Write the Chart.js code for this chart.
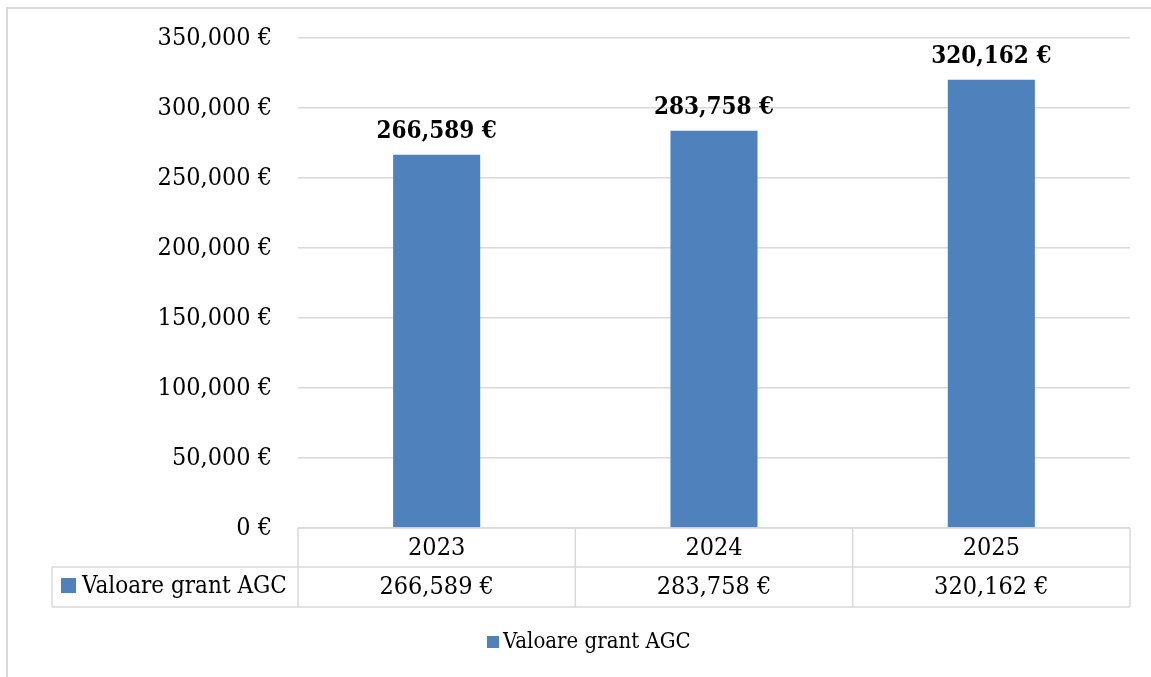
<!DOCTYPE html>
<html>
<head>
<meta charset="utf-8">
<script src="https://cdn.jsdelivr.net/npm/chart.js@4"></script>
<style>
  html, body { margin: 0; padding: 0; background: #fff; }
  #wrap { width: 1151px; height: 677px; position: relative; }
</style>
</head>
<body>
<div id="wrap"><canvas id="grantChart" width="1151" height="677"></canvas></div>
<script>
const years = ['2023', '2024', '2025'];
const grantValues = [266589, 283758, 320162];
const seriesName = 'Valoare grant AGC';
const yTicks = [0, 50000, 100000, 150000, 200000, 250000, 300000, 350000];

const barColor = '#4f81bd';
const lineColor = '#d9d9d9';
const fontName = '"DejaVu Serif Condensed", "DejaVu Serif", serif';

function euro(v) {
    return v.toLocaleString('en-US') + ' €';
}

// frame, data table under the axis, legend at the bottom, value labels
const tablePlugin = {
    id: 'tablePlugin',
    beforeDraw(chart) {
        const c = chart.ctx;
        c.save();
        c.fillStyle = '#fff';
        c.fillRect(0, 0, chart.width, chart.height);
        c.strokeStyle = lineColor;
        c.lineWidth = 2;
        c.beginPath();
        c.moveTo(7, chart.height);
        c.lineTo(7, 8);
        c.lineTo(chart.width, 8);
        c.stroke();
        c.restore();
    },
    afterDraw(chart) {
        const c = chart.ctx;
        const area = chart.chartArea;
        const x = chart.scales.x;
        const row1 = area.bottom + 39;
        const row2 = area.bottom + 79;
        const legendLeft = 52;

        c.save();
        c.strokeStyle = lineColor;
        c.lineWidth = 1.5;
        c.beginPath();
        c.moveTo(area.left, area.bottom);
        c.lineTo(area.right, area.bottom);
        c.moveTo(legendLeft, row1);
        c.lineTo(area.right, row1);
        c.moveTo(legendLeft, row2);
        c.lineTo(area.right, row2);
        c.moveTo(legendLeft, row1);
        c.lineTo(legendLeft, row2);
        const half = (x.getPixelForValue(1) - x.getPixelForValue(0)) / 2;
        c.moveTo(area.left, area.bottom);
        c.lineTo(area.left, row2);
        years.forEach((y, i) => {
            const px = x.getPixelForValue(i) + half;
            c.moveTo(px, area.bottom);
            c.lineTo(px, row2);
        });
        c.stroke();

        c.fillStyle = '#000';
        c.font = '25px ' + fontName;
        c.textAlign = 'center';
        c.textBaseline = 'middle';
        years.forEach((y, i) => {
            const px = x.getPixelForValue(i);
            c.fillText(y, px, area.bottom + 20);
            c.fillText(euro(grantValues[i]), px, row1 + 20);
        });

        // legend key inside the table
        c.fillStyle = barColor;
        c.fillRect(61, row1 + 11, 15, 15);
        c.fillStyle = '#000';
        c.textAlign = 'left';
        c.font = '24px ' + fontName;
        c.fillText(seriesName, 82, row1 + 20);

        // legend below the table
        c.fillStyle = barColor;
        c.fillRect(487, 636, 12, 12);
        c.fillStyle = '#000';
        c.font = '22px ' + fontName;
        c.fillText(seriesName, 503, 642);

        // bold value labels over the bars
        const meta = chart.getDatasetMeta(0);
        c.font = 'bold 24px ' + fontName;
        c.textAlign = 'center';
        c.textBaseline = 'bottom';
        meta.data.forEach((bar, i) => {
            c.fillText(euro(grantValues[i]), bar.x, bar.y - 11);
        });
        c.restore();
    }
};

const ctx = document.getElementById('grantChart').getContext('2d');
const chart = new Chart(ctx, {
    type: 'bar',
    data: {
        labels: years,
        datasets: [{
            label: seriesName,
            data: grantValues,
            backgroundColor: barColor,
            borderWidth: 0,
            categoryPercentage: 1,
            barPercentage: 0.314
        }]
    },
    options: {
        responsive: false,
        animation: false,
        layout: { padding: { left: 0, right: 21, top: 38, bottom: 0 } },
        plugins: {
            legend: { display: false },
            tooltip: { enabled: false }
        },
        scales: {
            x: {
                grid: { display: false },
                border: { display: false },
                ticks: { display: false },
                afterFit(s) { s.height = 149; }
            },
            y: {
                min: 0,
                max: 350000,
                afterBuildTicks(s) { s.ticks = yTicks.map(v => ({ value: v })); },
                grid: { color: lineColor, lineWidth: 1.5, drawTicks: false },
                border: { display: false },
                ticks: {
                    padding: 26,
                    color: '#000',
                    font: { family: fontName, size: 25 },
                    callback: v => euro(v)
                },
                afterFit(s) {
                    s.width = 298;
                    s.paddingTop = 0;
                    s.paddingBottom = 0;
                }
            }
        }
    },
    plugins: [tablePlugin]
});
</script>
</body>
</html>
